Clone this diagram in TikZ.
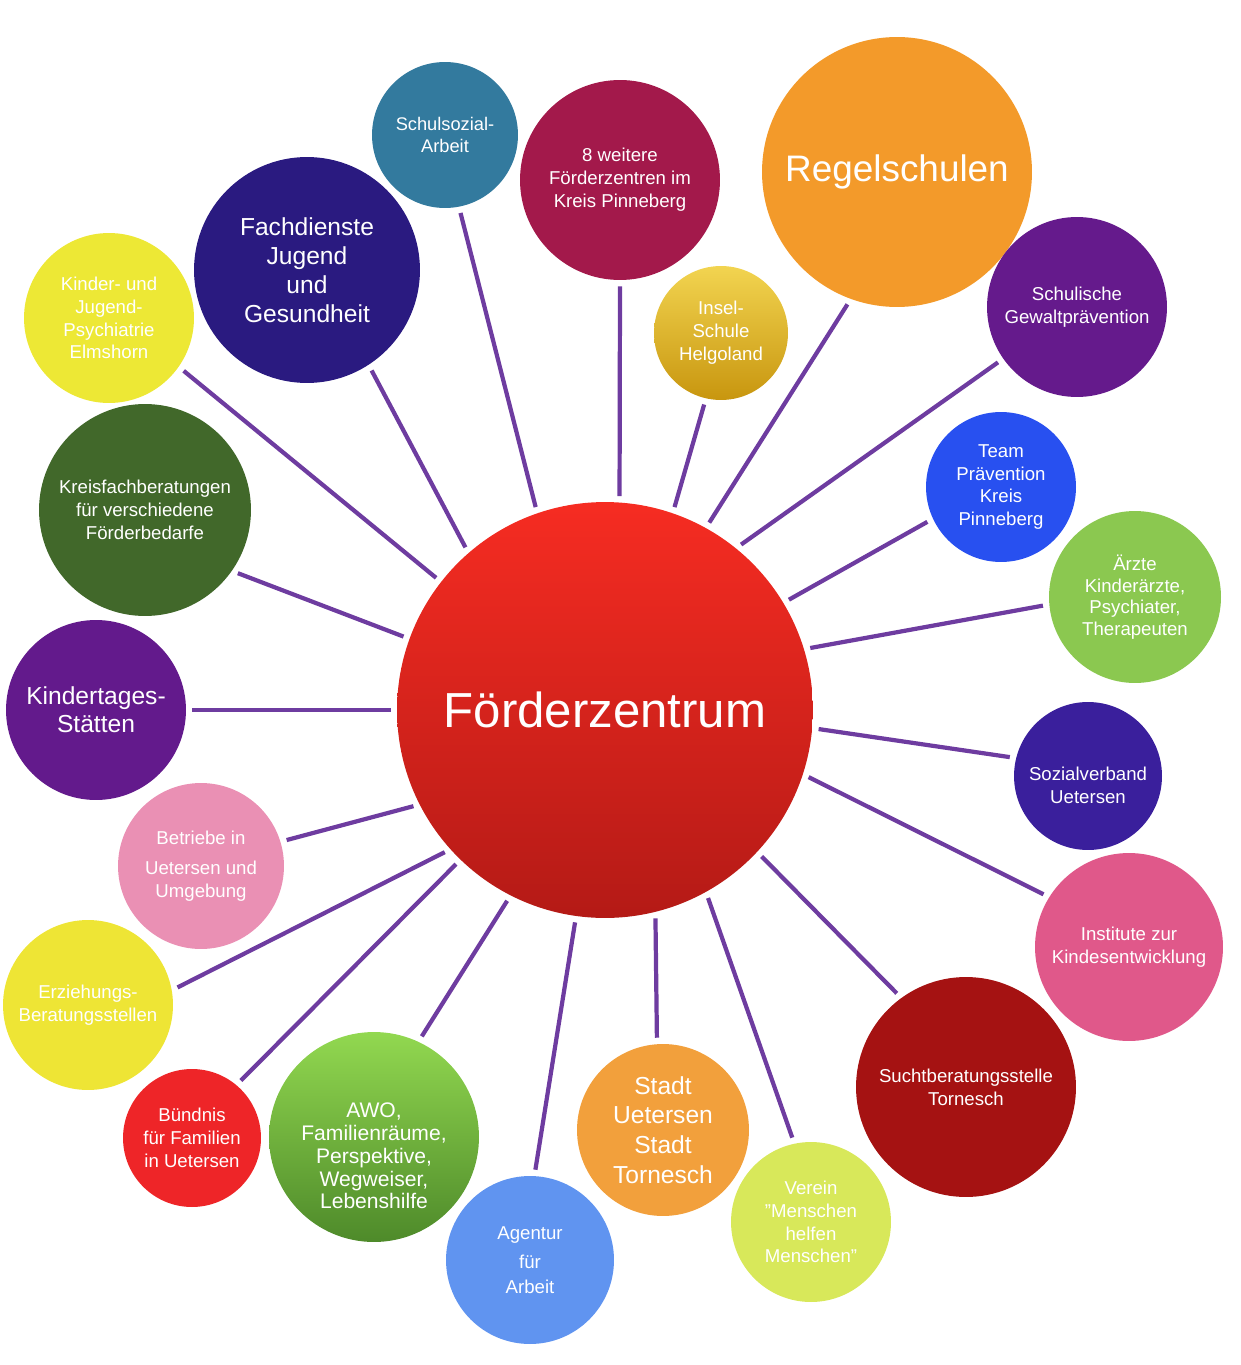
\documentclass[tikz,border=0pt]{standalone}
\usepackage{fontspec}
\setmainfont{Liberation Sans}

% Farben
\definecolor{linkc}{RGB}{110,60,160}
\definecolor{fztop}{RGB}{246,44,34}
\definecolor{fzbot}{RGB}{180,26,22}
\definecolor{kjpc}{RGB}{237,232,53}
\definecolor{fachc}{RGB}{42,26,128}
\definecolor{sozarbc}{RGB}{51,122,158}
\definecolor{weiterec}{RGB}{163,25,75}
\definecolor{inseltop}{RGB}{242,212,80}
\definecolor{inselbot}{RGB}{200,150,15}
\definecolor{regelc}{RGB}{243,154,42}
\definecolor{gewaltc}{RGB}{101,26,140}
\definecolor{teamc}{RGB}{40,80,240}
\definecolor{aerztec}{RGB}{139,200,80}
\definecolor{kreisc}{RGB}{65,104,42}
\definecolor{kitac}{RGB}{99,26,140}
\definecolor{sozvc}{RGB}{58,31,156}
\definecolor{betrc}{RGB}{234,144,180}
\definecolor{instc}{RGB}{224,88,138}
\definecolor{erzc}{RGB}{238,229,53}
\definecolor{suchtc}{RGB}{165,18,18}
\definecolor{buendc}{RGB}{238,37,40}
\definecolor{awotop}{RGB}{146,216,80}
\definecolor{awobot}{RGB}{78,138,42}
\definecolor{agenturc}{RGB}{96,148,240}
\definecolor{stadtc}{RGB}{242,160,60}
\definecolor{vereinc}{RGB}{216,232,90}

\tikzset{
  bub/.style={circle, inner sep=0pt, align=center, text=white,
    font=\fontsize{10.6}{13}\selectfont},
  link/.style={draw=linkc, line width=2.4pt, shorten <=3.5pt, shorten >=3.5pt},
}

\begin{document}
\begin{tikzpicture}[x=0.02cm, y=-0.02cm]
  \useasboundingbox (0,0) rectangle (1240,1365);

  % Mitte
  \node[bub, minimum size=8.32cm, top color=fztop, bottom color=fzbot,
    font=\fontsize{28}{32}\selectfont] (fz) at (605,710) {Förderzentrum};

  % oben
  \node[bub, minimum size=3.4cm, fill=kjpc] (kjp) at (109,318)
    {Kinder- und\\Jugend-\\Psychiatrie\\Elmshorn};
  \node[bub, minimum size=4.52cm, fill=fachc, font=\fontsize{14}{16.5}\selectfont]
    (fach) at (307,270) {Fachdienste\\Jugend\\und\\Gesundheit};
  \node[bub, minimum size=2.92cm, fill=sozarbc, font=\fontsize{10.4}{12}\selectfont]
    (sozarb) at (445,135) {Schulsozial-\\Arbeit};
  \node[bub, minimum size=4cm, fill=weiterec] (weitere) at (620,180)
    {8 weitere\\Förderzentren im\\Kreis Pinneberg};
  \node[bub, minimum size=2.68cm, top color=inseltop, bottom color=inselbot]
    (insel) at (721,333) {Insel-\\Schule\\Helgoland};
  \node[bub, minimum size=5.4cm, fill=regelc, font=\fontsize{21}{24}\selectfont]
    (regel) at (897,172) {Regelschulen};
  \node[bub, minimum size=3.6cm, fill=gewaltc] (gewalt) at (1077,307)
    {Schulische\\Gewaltprävention};

  % rechts
  \node[bub, minimum size=3cm, fill=teamc] (team) at (1001,487)
    {Team\\Prävention\\Kreis\\Pinneberg};
  \node[bub, minimum size=3.44cm, fill=aerztec, font=\fontsize{10.6}{12.3}\selectfont]
    (aerzte) at (1135,597) {Ärzte\\Kinderärzte,\\Psychiater,\\Therapeuten};
  \node[bub, minimum size=2.96cm, fill=sozvc] (sozv) at (1088,776)
    {\rule{0pt}{18pt}Sozialverband\\Uetersen};
  \node[bub, minimum size=3.76cm, fill=instc] (inst) at (1129,947)
    {Institute zur\\Kindesentwicklung};
  \node[bub, minimum size=4.4cm, fill=suchtc] (sucht) at (966,1087)
    {Suchtberatungsstelle\\Tornesch};

  % links
  \node[bub, minimum size=4.24cm, fill=kreisc] (kreis) at (145,510)
    {Kreisfachberatungen\\für verschiedene\\Förderbedarfe};
  \node[bub, minimum size=3.6cm, fill=kitac, font=\fontsize{14}{16}\selectfont]
    (kita) at (96,710) {Kindertages-\\Stätten};
  \node[bub, minimum size=3.32cm, fill=betrc] (betr) at (201,866)
    {Betriebe in\\[4pt]Uetersen und\\Umgebung};
  \node[bub, minimum size=3.4cm, fill=erzc] (erz) at (88,1005)
    {Erziehungs-\\Beratungsstellen};
  \node[bub, minimum size=2.76cm, fill=buendc] (buend) at (192,1138)
    {Bündnis\\für Familien\\in Uetersen};

  % unten
  \node[bub, minimum size=4.2cm, top color=awotop, bottom color=awobot,
    font=\fontsize{12}{13}\selectfont] (awo) at (374,1137)
    {\rule{0pt}{30pt}AWO,\\Familienräume,\\Perspektive,\\Wegweiser,\\Lebenshilfe};
  \node[bub, minimum size=3.36cm, fill=agenturc] (agentur) at (530,1260)
    {Agentur\\[3.5pt]für\\[1.5pt]Arbeit};
  \node[bub, minimum size=3.44cm, fill=stadtc, font=\fontsize{14}{17}\selectfont]
    (stadt) at (663,1130) {Stadt\\Uetersen\\Stadt\\Tornesch};
  \node[bub, minimum size=3.2cm, fill=vereinc] (verein) at (811,1222)
    {Verein\\"Menschen\\helfen\\Menschen"};

  % Verbindungen zur Mitte
  \foreach \n/\a/\b in {kjp/-35/142, fach/-57/131, sozarb/-79/109,
      weitere/-90/86, insel/-103/71, regel/-110/61, gewalt/-145/51,
      team/-155/31, aerzte/-175/17, kreis/-35/160, kita/0/180,
      sozv/166/-5, betr/17/-153, inst/148/-18, erz/10/-138,
      buend/50/-134, awo/65/-117, agentur/87/-98, stadt/94/-76,
      verein/102/-61, sucht/126/-43}
    \draw[link] (\n.\a) -- (fz.\b);
\end{tikzpicture}
\end{document}
